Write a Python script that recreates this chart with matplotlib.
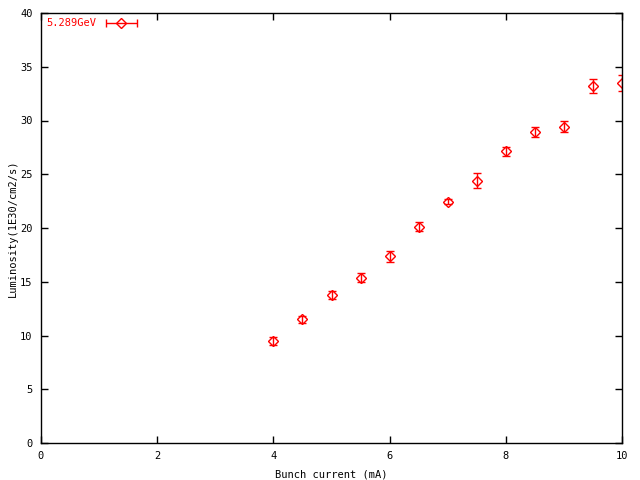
import numpy as np
import matplotlib
matplotlib.use("Agg")
import matplotlib.pyplot as plt
from matplotlib.container import ErrorbarContainer
from matplotlib.legend_handler import HandlerErrorbar

current = [4.0, 4.5, 5.0, 5.5, 6.0, 6.5, 7.0, 7.5, 8.0, 8.5, 9.0, 9.5, 10.0]
lumi = [9.45, 11.5, 13.74, 15.38, 17.35, 20.12, 22.45, 24.4, 27.13, 28.9, 29.43, 33.2, 33.46]
lumi_err = [0.37, 0.3, 0.37, 0.39, 0.47, 0.4, 0.22, 0.7, 0.42, 0.47, 0.51, 0.65, 0.74]
series_label = "5.289GeV"
xticks = [0, 2, 4, 6, 8, 10]
yticks = [0, 5, 10, 15, 20, 25, 30, 35, 40]

plt.rcParams['font.family'] = ['DejaVu Sans Mono']
plt.rcParams['font.size'] = 7.5

fig = plt.figure(figsize=(6.4, 4.8), dpi=100)
ax = fig.add_axes([41/640, 37/480, 581/640, 430/480])

red = '#ff0000'
ax.errorbar(current, lumi, yerr=lumi_err, fmt='D', ms=5.5, mfc='none', mec=red,
            mew=1.0, ecolor=red, elinewidth=1.0, capsize=3, capthick=1.0)
# legend sample (horizontal error bar as gnuplot draws it)
h = ax.errorbar([np.nan], [np.nan], xerr=[[0]], fmt='D', ms=5.5, mfc='none', mec=red,
                mew=1.0, ecolor=red, elinewidth=1.0, capsize=3, capthick=1.0,
                label=series_label)

ax.set_xlim(0, 10)
ax.set_ylim(0, 40)
ax.set_xticks(xticks)
ax.set_yticks(yticks)
ax.tick_params(direction='in', length=5, width=1, top=True, right=True, pad=6)
for s in ax.spines.values():
    s.set_linewidth(1)
ax.set_xlabel("Bunch current (mA)", labelpad=6)
ax.set_ylabel("Luminosity(1E30/cm2/s)", labelpad=2)

leg = ax.legend(handles=[h], loc='upper left', frameon=False, markerfirst=False,
                handlelength=3.2, handletextpad=0.8, borderaxespad=0.1,
                labelcolor=red, fontsize=7.5,
                handler_map={ErrorbarContainer: HandlerErrorbar(xerr_size=1.5)})

fig.savefig("out.png", dpi=100)
